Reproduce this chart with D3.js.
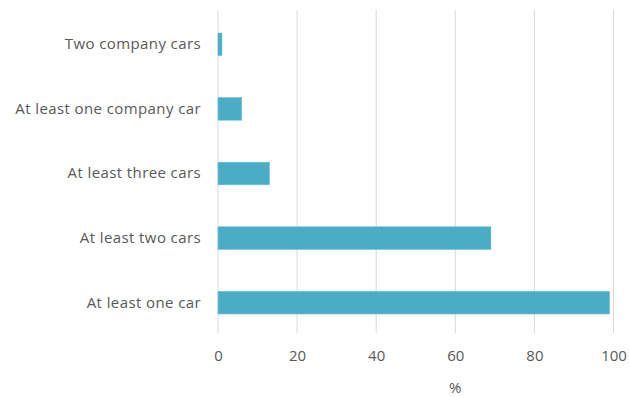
<!DOCTYPE html>
<html>
<head>
<meta charset="utf-8">
<script src="https://cdn.jsdelivr.net/npm/d3@7"></script>
<style>
  html, body { margin: 0; padding: 0; background: #fff; }
  text { font-family: "Open Sans", "Noto Sans", sans-serif; fill: #595959; }
</style>
</head>
<body>
<svg id="chart" width="629" height="397"></svg>
<script>
// Share of households, by car ownership (%)
const categories = [
  "Two company cars",
  "At least one company car",
  "At least three cars",
  "At least two cars",
  "At least one car"
];
const values = [1, 6, 13, 69, 99];
const xTicks = [0, 20, 40, 60, 80, 100];
const xTitle = "%";

const svg = d3.select("#chart");
const margin = { top: 12, right: 16, bottom: 62, left: 218 };

const g = svg.append("g").attr("transform", `translate(${margin.left},${margin.top})`);

const x = d3.scaleLinear().domain([0, 100]).range([0, 395.5]);
const y = d3.scaleBand().domain(categories).range([0, 323]).paddingInner(0.65).paddingOuter(0.325);

// vertical gridlines
g.selectAll("line.grid")
  .data(xTicks)
  .join("line")
  .attr("class", "grid")
  .attr("x1", d => x(d)).attr("x2", d => x(d))
  .attr("y1", -2).attr("y2", 321)
  .attr("stroke", "#d9d9d9")
  .attr("stroke-width", 1);

// bars
g.selectAll("rect.bar")
  .data(values)
  .join("rect")
  .attr("class", "bar")
  .attr("x", x(0))
  .attr("y", (d, i) => y(categories[i]))
  .attr("width", d => x(d) - x(0))
  .attr("height", y.bandwidth())
  .attr("fill", "#4bacc6")
  .attr("stroke", "#6cc0d6")
  .attr("stroke-width", 0.6);

// category axis
const yAxis = g.append("g").call(d3.axisLeft(y).tickSize(0).tickPadding(17));
yAxis.select(".domain").remove();
yAxis.selectAll("text").attr("font-size", 15).attr("letter-spacing", 0.4);

// value axis
const xAxis = g.append("g")
  .attr("transform", `translate(0,${329})`)
  .call(d3.axisBottom(x).tickValues(xTicks).tickSize(0).tickPadding(9));
xAxis.select(".domain").remove();
xAxis.selectAll("text").attr("font-size", 15);

g.append("text")
  .attr("x", x(60))
  .attr("y", 393 - margin.top)
  .attr("text-anchor", "middle")
  .attr("font-size", 15)
  .text(xTitle);
</script>
</body>
</html>
